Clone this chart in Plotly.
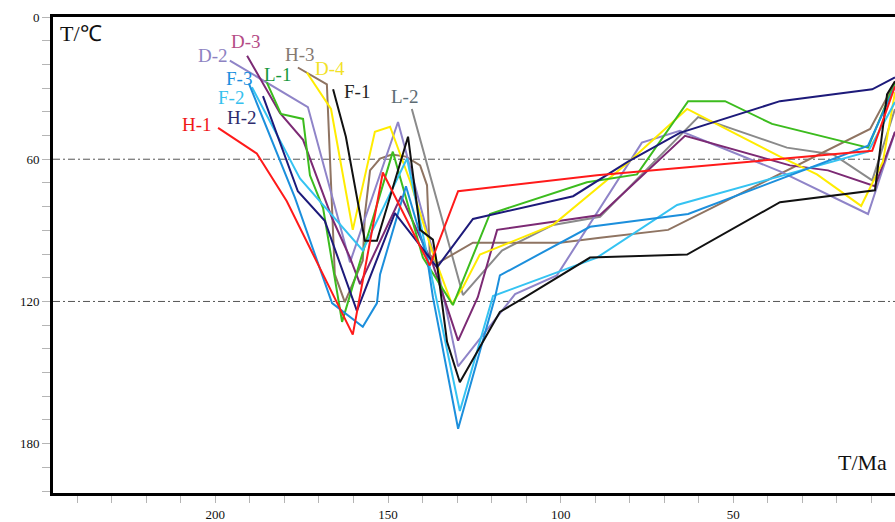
import plotly.graph_objects as go

# ---- data (age in Ma, temperature in degC) ----
H1_ma = [199.2, 188.0, 179.3, 160.2, 151.5, 137.9, 129.7, 89.5, 9.8, 3.2]
H1_t = [46.8, 57.6, 77.7, 134.0, 65.6, 104.8, 73.5, 66.8, 56.4, 29.2]

H2_ma = [186.2, 176.1, 168.3, 159.0, 148.0, 135.8, 125.4, 96.4, 80.5, 65.5, 36.5, 9.8, 3.2]
H2_t = [33.4, 73.5, 86.0, 124.0, 82.7, 105.6, 85.2, 75.6, 61.0, 48.9, 35.5, 30.5, 25.5]

H3_ma = [176.1, 167.7, 165.4, 162.5, 157.3, 156.7, 155.2, 152.3, 148.9, 144.8, 140.7, 138.7,
         137.9, 135.8, 125.4, 100.2, 88.6, 68.9, 10.4, 3.2]
H3_t = [21.3, 28.4, 108.6, 120.3, 102.7, 83.5, 64.7, 59.7, 58.0, 58.9, 62.6, 71.0,
        100.2, 104.0, 95.2, 95.2, 93.1, 89.8, 47.2, 27.6]

D2_ma = [195.8, 173.2, 161.0, 147.1, 138.7, 135.8, 129.7, 113.2, 101.1, 88.6, 76.5, 65.5, 36.5, 11.0, 3.2]
D2_t = [18.4, 38.0, 103.5, 44.3, 90.2, 104.8, 147.4, 116.9, 109.0, 80.6, 53.0, 48.0, 65.1, 83.1, 48.4]

D3_ma = [190.8, 181.3, 174.6, 166.2, 161.0, 158.1, 146.2, 137.0, 129.7, 124.0, 118.4, 88.6, 64.0,
         33.6, 22.6, 9.0, 3.2]
D3_t = [16.3, 40.5, 51.8, 84.8, 101.5, 112.7, 75.6, 104.4, 136.5, 118.2, 89.8, 83.5, 50.1,
        62.6, 64.7, 71.4, 48.4]

D4_ma = [173.5, 166.5, 160.2, 153.8, 149.4, 143.6, 137.3, 131.5, 128.3, 123.4, 118.4, 102.2, 80.8,
         63.4, 36.5, 25.8, 13.0, 6.7, 3.2]
D4_t = [23.4, 38.8, 89.8, 48.4, 46.3, 69.3, 98.5, 121.1, 114.0, 100.2, 97.3, 87.7, 61.8,
        38.8, 58.9, 66.4, 79.7, 61.0, 31.7]

F1_ma = [165.9, 162.2, 156.7, 153.2, 144.2, 140.7, 137.0, 135.8, 132.9, 129.2, 117.6, 110.3, 91.5,
         63.4, 36.5, 9.0, 5.5, 3.2]
F1_t = [30.5, 50.5, 94.4, 94.4, 50.5, 89.8, 93.9, 104.4, 137.0, 154.1, 124.4, 118.2, 101.5,
        100.2, 78.1, 73.1, 32.6, 27.1]

F2_ma = [189.4, 175.5, 157.3, 144.5, 129.2, 119.6, 89.5, 66.3, 11.0, 3.2]
F2_t = [29.6, 68.1, 98.5, 59.7, 166.2, 117.7, 101.5, 79.3, 56.8, 35.9]

F3_ma = [190.3, 176.9, 166.2, 157.3, 153.2, 152.3, 144.8, 138.7, 137.0, 129.7, 119.0, 117.6, 91.5,
         63.1, 11.0, 3.2]
F3_t = [28.0, 76.4, 120.7, 130.7, 120.7, 108.6, 71.4, 101.5, 118.2, 173.7, 118.2, 109.0, 88.5,
        83.1, 54.3, 29.2]

L1_ma = [185.1, 181.0, 174.6, 172.6, 168.8, 163.3, 148.6, 139.9, 131.2, 120.5, 92.4, 77.9, 63.1,
         52.4, 38.8, 25.8, 11.0, 3.2]
L1_t = [27.6, 40.9, 43.0, 66.8, 80.6, 128.6, 56.8, 101.5, 121.5, 83.1, 69.7, 66.4, 35.5,
        35.5, 45.1, 49.7, 55.1, 27.6]

L2_ma = [143.1, 128.3, 117.0, 102.2, 88.6, 60.2, 34.5, 21.1, 9.8, 3.2]
L2_t = [38.8, 117.3, 98.5, 87.7, 84.3, 42.2, 55.1, 58.0, 68.9, 38.8]

# label name, label position (Ma, degC)
label_names = ["D-3", "D-2", "H-3", "L-1", "D-4", "F-3", "F-1", "L-2", "F-2", "H-2", "H-1"]
label_ma = [191.2, 200.8, 175.5, 181.9, 166.8, 193.1, 159.0, 145.1, 195.5, 192.3, 205.3]
label_t = [10.2, 16.3, 15.9, 24.2, 21.7, 26.1, 31.3, 33.4, 33.8, 42.6, 45.5]

x_ticks = list(range(240, 0, -10))
x_labeled = [200, 150, 100, 50]
y_ticks = list(range(0, 201, 10))
y_labeled = [0, 60, 120, 180]
ref_temps = [60, 120]

series = [
    ("L-2", L2_ma, L2_t, "#8a8a8a", "#5d6c74"),
    ("H-3", H3_ma, H3_t, "#8f7462", "#857a72"),
    ("D-2", D2_ma, D2_t, "#8f84c8", "#8d82c2"),
    ("D-3", D3_ma, D3_t, "#7c2a74", "#b44c86"),
    ("D-4", D4_ma, D4_t, "#ffec00", "#f2e226"),
    ("L-1", L1_ma, L1_t, "#3cbc1e", "#15983c"),
    ("F-2", F2_ma, F2_t, "#35c3f2", "#35c0ee"),
    ("F-3", F3_ma, F3_t, "#1c8fdc", "#1a8ede"),
    ("H-2", H2_ma, H2_t, "#1d1a7a", "#2e2b6e"),
    ("F-1", F1_ma, F1_t, "#111111", "#222222"),
    ("H-1", H1_ma, H1_t, "#ff1a1a", "#f01818"),
]
label_color = {s[0]: s[4] for s in series}

fig = go.Figure()
for name, xs, ys, col, _ in series:
    fig.add_trace(go.Scatter(x=xs, y=ys, mode="lines", name=name,
                             line=dict(color=col, width=2), showlegend=False))

for t in ref_temps:
    fig.add_shape(type="line", xref="paper", x0=0, x1=1, yref="y", y0=t, y1=t,
                  line=dict(color="#555555", width=1, dash="7px,3px,2px,3px"), layer="below")

for nm, xm, yt in zip(label_names, label_ma, label_t):
    fig.add_annotation(x=xm, y=yt, text=nm, showarrow=False, xanchor="center", yanchor="middle",
                       font=dict(family="Liberation Serif", size=19, color=label_color[nm]))

fig.add_annotation(xref="paper", yref="paper", x=0.006, y=0.995, text="T/℃", showarrow=False,
                   xanchor="left", yanchor="top",
                   font=dict(family="Liberation Serif", size=22, color="#111111"))
fig.add_annotation(xref="paper", yref="paper", x=0.993, y=0.033, text="T/Ma", showarrow=False,
                   xanchor="right", yanchor="bottom",
                   font=dict(family="Liberation Serif", size=22, color="#111111"))

fig.update_layout(
    width=895, height=522,
    margin=dict(l=53, r=0, t=17, b=24),
    paper_bgcolor="white", plot_bgcolor="white",
    xaxis=dict(range=[247.0, 3.2], tickvals=x_ticks,
               ticktext=[str(v) if v in x_labeled else "" for v in x_ticks],
               ticks="outside", ticklen=7, tickcolor="#b5b5b5", tickwidth=1,
               showline=True, linecolor="black", linewidth=3, mirror=True,
               showgrid=False, zeroline=False,
               tickfont=dict(family="Liberation Serif", size=13, color="#111111")),
    yaxis=dict(range=[200.8, 0], tickvals=y_ticks,
               ticktext=[str(v) if v in y_labeled else "" for v in y_ticks],
               ticks="outside", ticklen=8, tickcolor="#b5b5b5", tickwidth=1,
               showline=True, linecolor="black", linewidth=3, mirror=False,
               showgrid=False, zeroline=False,
               tickfont=dict(family="Liberation Serif", size=13, color="#111111")),
)

fig.write_html("out.html", config={"displayModeBar": False},
               post_script="document.body.style.margin='0px';")
